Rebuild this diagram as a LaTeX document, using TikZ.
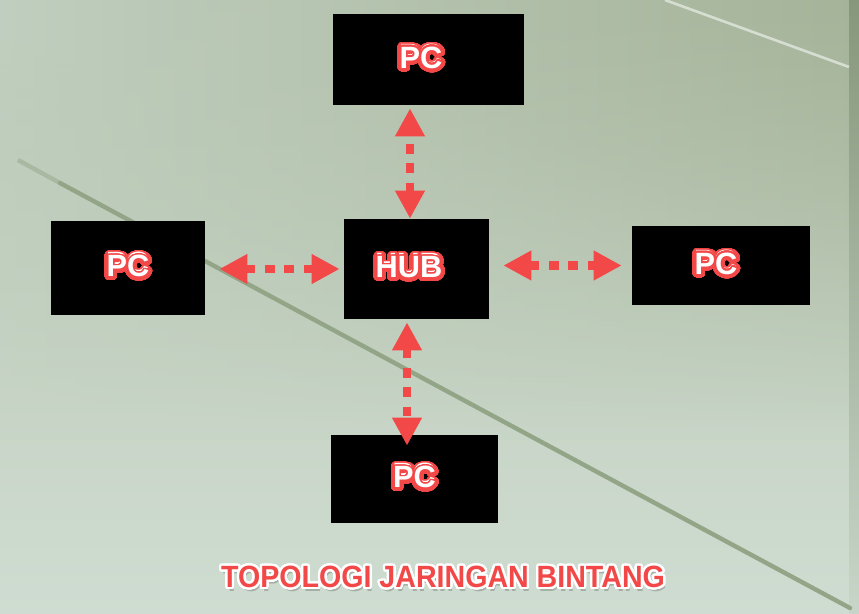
\documentclass[tikz,border=0pt]{standalone}
\usepackage{fontspec}
\setmainfont{Liberation Sans}
\newfontfamily\fuentetitulo{Liberation Sans}[FakeStretch=0.93]
\usepackage{contour}
\usetikzlibrary{arrows.meta,calc,fadings}

\definecolor{rojo}{HTML}{F24848}
\definecolor{fondoA}{HTML}{B8C6B2}
\definecolor{fondoB}{HTML}{CFDCD1}
\definecolor{fondoIzq}{HTML}{C0CFBF}
\definecolor{fondoDer}{HTML}{A5B399}
\definecolor{linea}{HTML}{93A587}
\definecolor{borde}{HTML}{86977B}

\contournumber{32}
\newsavebox\cajatexto
\newcommand\rotulo[1]{\contourlength{0.7pt}\contour{rojo}{\textcolor{white}{#1}}}
\newcommand\rotulocaja[1]{\sbox\cajatexto{\rotulo{#1}}\contourlength{1.6pt}\contour{white}{\usebox\cajatexto}}
\newcommand\rotulotitulo[1]{\contourlength{1.3pt}\contour{white}{\textcolor{rojo}{#1}}}

\tikzset{
  caja/.style={fill=black, inner sep=0pt, font=\bfseries\fontsize{17.5}{18}\selectfont},
  enlace/.style={rojo, line width=5pt, dash pattern=on 5.5pt off 5.5pt,
    {Triangle[width=16pt,length=16pt]}-{Triangle[width=16pt,length=16pt]}},
}

\begin{document}
\begin{tikzpicture}[x=0.02cm,y=-0.02cm]
  % Fondo
  \useasboundingbox (0,0) rectangle (859,614);
  \shade[top color=fondoA, bottom color=fondoB] (0,0) rectangle (859,614);
  \shade[left color=fondoIzq, right color=fondoDer, path fading=south] (0,0) rectangle (859,440);
  \shade[top color=borde, bottom color=fondoB!90!borde] (849,0) rectangle (859,614);

  % Lineas diagonales
  \draw[linea!40!fondoA, line width=2.5pt] (18,160) -- (60,183);
  \draw[linea, line width=2.5pt, line cap=round] (60,183) -- (850,608);
  \draw[white!55!fondoDer, line width=1.5pt] (665,0) -- (849,67);

  % Nodos
  \node[caja, minimum width=3.82cm, minimum height=1.82cm] (pcarriba) at (428.5,59.5) {\rotulocaja{PC}\kern0.3cm};
  \node[caja, minimum width=2.9cm, minimum height=2cm] (hub) at (416.5,269) {\rotulocaja{HUB}\kern0.3cm};
  \node[caja, minimum width=3.08cm, minimum height=1.88cm] (pcizq) at (128,268) {\rotulocaja{PC}};
  \node[caja, minimum width=3.56cm, minimum height=1.58cm] (pcder) at (721,265.5) {\rotulocaja{PC}\kern0.2cm};
  \node[caja, minimum width=3.34cm, minimum height=1.76cm] (pcabajo) at (414.5,479) {\rotulocaja{PC}};

  % Flechas
  \draw[enlace, shorten >=0.06cm] ([xshift=-0.13cm]hub.north) -- ([xshift=-0.13cm]hub.north |- pcarriba.south);
  \draw[enlace, shorten <=0.28cm, shorten >=0.08cm] (pcizq.east |- hub.west) -- (hub.west);
  \draw[enlace, shorten <=0.28cm, shorten >=0.2cm] (pcder.west -| hub.east) -- (pcder.west);
  \draw[enlace, shorten <=0.06cm, shorten >=-0.22cm] ([xshift=-0.19cm]hub.south) -- ([xshift=-0.19cm]hub.south |- pcabajo.north);

  % Titulo
  \node[black, opacity=0.2, font=\fuentetitulo\bfseries\fontsize{17.5}{18}\selectfont] (sombra) at (445,581) {TOPOLOGI JARINGAN BINTANG};
  \node[font=\fuentetitulo\bfseries\fontsize{17.5}{18}\selectfont] (titulo) at (443,578) {\rotulotitulo{TOPOLOGI JARINGAN BINTANG}};
\end{tikzpicture}
\end{document}
